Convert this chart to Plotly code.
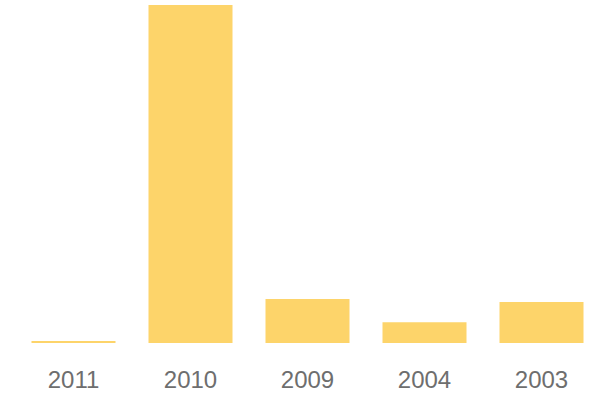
import plotly.graph_objects as go

years = ["2011", "2010", "2009", "2004", "2003"]
values = [17, 3380, 440, 207, 410]

fig = go.Figure(go.Bar(x=years, y=values, marker=dict(color="#FDD46A", line=dict(width=0)),
                       hoverinfo="skip"))
fig.update_layout(
    width=600, height=400,
    margin=dict(l=15, r=0, t=5, b=57),
    paper_bgcolor="white", plot_bgcolor="white",
    bargap=0.282,
    showlegend=False,
    font=dict(family="Liberation Sans, Arial, sans-serif", size=24, color="#6e6e6e"),
)
fig.update_xaxes(type="category", showgrid=False, showline=False, zeroline=False,
                 ticks="", ticklabelstandoff=20, tickfont=dict(size=24, color="#6e6e6e"))
fig.update_yaxes(range=[0, 3380], visible=False, showgrid=False, zeroline=False)
fig.write_html("out.html", config={"displayModeBar": False},
               post_script="document.body.style.margin='0';")
